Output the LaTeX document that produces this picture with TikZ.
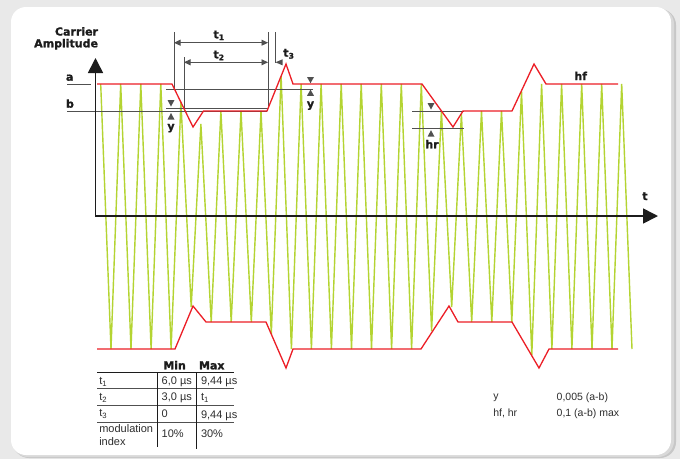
\documentclass[tikz,border=0pt]{standalone}
\usepackage{fontspec}
\setmainfont{Liberation Sans}
\newfontfamily\lblfont{DejaVu Sans}[BoldFeatures={FakeBold=1.2}]
\usetikzlibrary{arrows.meta}
\definecolor{carrier}{RGB}{180,212,50}
\definecolor{env}{RGB}{236,30,38}
\definecolor{dim}{RGB}{80,80,80}
\definecolor{ink}{RGB}{28,28,28}
\definecolor{txt}{RGB}{45,45,45}
\definecolor{bg}{RGB}{233,233,233}
\tikzset{
  lbl/.style={font=\lblfont\bfseries\fontsize{11}{13}\selectfont, text=ink, inner sep=0pt, outer sep=0pt},
  tbl/.style={font=\fontsize{11}{13}\selectfont, text=txt, inner sep=0pt, outer sep=0pt},
  note/.style={font=\fontsize{10.5}{12}\selectfont, text=txt, inner sep=0pt, outer sep=0pt},
  guide/.style={draw=dim, line width=0.9pt},
  dimarrow/.style={draw=dim, line width=0.9pt, {Triangle[length=6.5pt,width=6pt]}-{Triangle[length=6.5pt,width=6pt]}},
  axisline/.style={draw=ink, line width=1.6pt, {Triangle[length=15pt,width=15pt]}-{Triangle[length=15pt,width=15pt]}},
  envline/.style={draw=env, line width=1.3pt},
  carrierline/.style={draw=carrier, line width=1.4pt},
  tip/.style={fill=dim},
  toprule/.style={draw=ink, line width=1.5pt},
  rowrule/.style={draw=dim, line width=0.9pt},
  colrule/.style={draw=ink, line width=1pt},
}
\begin{document}
\begin{tikzpicture}[x=1pt, y=-1pt]
\useasboundingbox (0,0) rectangle (680,459);
% background and card
\fill[bg] (0,0) rectangle (680,459);
\fill[black!22, rounded corners=16pt] (13,9) rectangle (676,458);
\fill[black!15, rounded corners=16pt] (12,8) rectangle (674,457);
\fill[white, rounded corners=15pt] (11,7) rectangle (671,455);

% carrier
\draw[carrierline] (100.7,84) -- (111,349) -- (120.7,84) -- (131,349) -- (140.8,84) -- (151.1,349)
 -- (160.8,84) -- (171.1,349) -- (180.9,102) -- (191.2,307) -- (200.9,124) -- (211.2,322)
 -- (220.9,111) -- (231.2,322) -- (241,111) -- (251.3,322) -- (261,111) -- (271.3,334)
 -- (281.1,76) -- (291.4,349) -- (301.1,84) -- (311.4,349) -- (321.1,84) -- (331.4,349)
 -- (341.2,84) -- (351.5,349) -- (361.2,84) -- (371.5,349) -- (381.3,84) -- (391.6,349)
 -- (401.3,84) -- (411.6,349) -- (421.3,84) -- (431.6,331) -- (441.4,111) -- (451.7,307)
 -- (461.4,114) -- (471.7,322) -- (481.5,111) -- (491.8,322) -- (501.5,111) -- (511.8,322)
 -- (521.5,91) -- (531.8,355) -- (541.6,84) -- (551.9,349) -- (561.6,84) -- (571.9,349)
 -- (581.7,84) -- (592,349) -- (601.7,84) -- (612,349) -- (621.7,84) -- (632,349);

% guide lines
\draw[guide] (67,84) -- (91,84);
\draw[guide] (67,111) -- (267,111);
\draw[guide] (166,89) -- (313,89);
\draw[guide] (166,108) -- (268,108);
\draw[guide] (174,32) -- (174,89);
\draw[guide] (184,57) -- (184,108);
\draw[guide] (268,32) -- (268,108);
\draw[guide] (275,32) -- (275,63);
\draw[guide] (412,111) -- (464,111);
\draw[guide] (412,128) -- (464,128);

% envelope
\draw[envline] (97,84) -- (172,84) -- (193,127) -- (203.5,111) -- (267,111) -- (286,64) -- (293,84)
 -- (422,84) -- (453,127) -- (463,111) -- (512,111) -- (534,64) -- (546,84) -- (618,84);
\draw[envline] (97,349) -- (175,349) -- (193,306) -- (206,322) -- (266,322) -- (286,368) -- (293,349)
 -- (421,349) -- (449,306) -- (458,322) -- (512,322) -- (539,368) -- (549,349) -- (618,349);

% axes
\coordinate (ytop) at (95.5,58);
\coordinate (origin) at (95.5,216);
\coordinate (xend) at (658,216);
\draw[axisline] (ytop) -- (origin) -- (xend);

% dimension arrows
\coordinate (t1l) at (174,42.7);
\coordinate (t1r) at (268,42.7);
\coordinate (t2l) at (184,62.3);
\coordinate (t2r) at (268,62.3);
\draw[dimarrow] (t1l) -- (t1r);
\draw[dimarrow] (t2l) -- (t2r);
\fill[tip] (275.5,62.3) -- (282.5,59.3) -- (282.5,65.3) -- cycle;

% y markers
\fill[tip] (167.5,100) -- (174.5,100) -- (171,106.5) -- cycle;
\fill[tip] (167.5,119.5) -- (174.5,119.5) -- (171,113) -- cycle;
\fill[tip] (307,77) -- (314,77) -- (310.5,83.2) -- cycle;
\fill[tip] (307,95.8) -- (314,95.8) -- (310.5,89.6) -- cycle;
\fill[tip] (427.5,103) -- (434.5,103) -- (431,109.5) -- cycle;
\fill[tip] (427.5,136.7) -- (434.5,136.7) -- (431,130.2) -- cycle;

% labels
\node[lbl, anchor=base east] (lcarrier) at (98,35.5) {Carrier};
\node[lbl, anchor=base east] (lampl) at (98,47.3) {Amplitude};
\node[lbl, anchor=base west] (la) at (66,80.7) {a};
\node[lbl, anchor=base west] (lb) at (66,107.7) {b};
\node[lbl, anchor=base] (ly1) at (171,130) {y};
\node[lbl, anchor=base] (ly2) at (310.5,107.5) {y};
\node[lbl, anchor=base] (lt1) at (219,38.3) {t\textsubscript{1}};
\node[lbl, anchor=base] (lt2) at (219,58.3) {t\textsubscript{2}};
\node[lbl, anchor=base west] (lt3) at (283.3,56.7) {t\textsubscript{3}};
\node[lbl, anchor=base] (lt) at (645,200) {t};
\node[lbl, anchor=base] (lhf) at (580.7,80) {hf};
\node[lbl, anchor=base] (lhr) at (432,148.3) {hr};

% table
\draw[toprule] (97,372.7) -- (234,372.7);
\draw[rowrule] (97,388.3) -- (234,388.3);
\draw[rowrule] (97,405) -- (234,405);
\draw[rowrule] (97,422.7) -- (234,422.7);
\draw[colrule] (157.3,372.7) -- (157.3,446.7);
\draw[colrule] (196.7,372.7) -- (196.7,449);
\node[lbl, anchor=base west] (hmin) at (163.3,369.3) {Min};
\node[lbl, anchor=base west] (hmax) at (199,369.3) {Max};
\node[tbl, anchor=base west] (r1a) at (99.3,384.5) {t\textsubscript{1}};
\node[tbl, anchor=base west] (r1b) at (161.7,384.5) {6,0 µs};
\node[tbl, anchor=base west] (r1c) at (201,384.5) {9,44 µs};
\node[tbl, anchor=base west] (r2a) at (99.3,400.7) {t\textsubscript{2}};
\node[tbl, anchor=base west] (r2b) at (161.7,400.7) {3,0 µs};
\node[tbl, anchor=base west] (r2c) at (201,400.7) {t\textsubscript{1}};
\node[tbl, anchor=base west] (r3a) at (99.3,416.8) {t\textsubscript{3}};
\node[tbl, anchor=base west] (r3b) at (161.7,417.3) {0};
\node[tbl, anchor=base west] (r3c) at (201,418.8) {9,44 µs};
\node[tbl, anchor=base west] (r4a) at (99.3,432.7) {modulation};
\node[tbl, anchor=base west] (r4a2) at (99.3,445.7) {index};
\node[tbl, anchor=base west] (r4b) at (161.7,437.7) {10\%};
\node[tbl, anchor=base west] (r4c) at (201,437.7) {30\%};

% notes
\node[note, anchor=base west] (ny) at (493.3,399.8) {y};
\node[note, anchor=base west] (nyv) at (556.7,400.2) {0,005 (a-b)};
\node[note, anchor=base west] (nh) at (493.3,416.2) {hf, hr};
\node[note, anchor=base west] (nhv) at (556.7,416.8) {0,1 (a-b) max};
\end{tikzpicture}
\end{document}
